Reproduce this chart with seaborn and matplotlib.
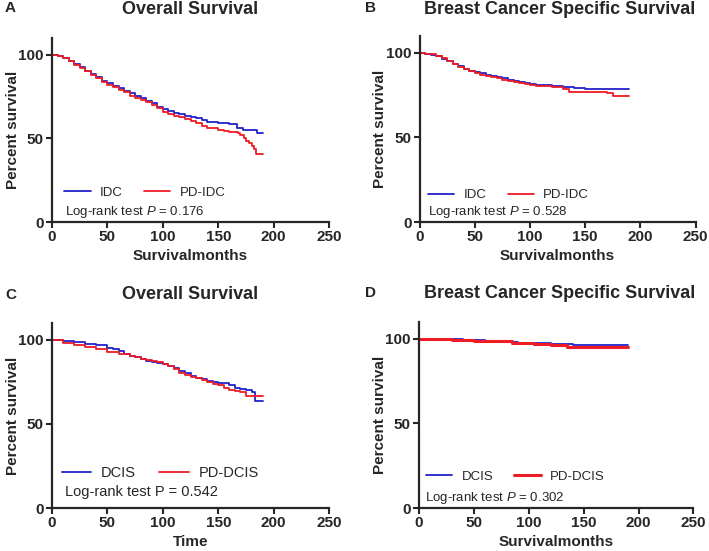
import matplotlib
matplotlib.use("Agg")
import matplotlib.pyplot as plt
import seaborn as sns
import pandas as pd

# ---------------- data ----------------
# Panel A: Overall Survival (IDC vs PD-IDC)
a_idc_t = [0, 5, 10, 15, 20, 25, 30, 35, 40, 45, 50, 55, 60, 65, 70, 75, 80, 85, 90, 95, 100,
           105, 110, 115, 120, 125, 130, 135, 140, 150, 160, 167, 172, 185, 190]
a_idc_s = [100, 99.5, 98, 96.5, 94.5, 92.5, 90.5, 88.5, 86.5, 84.5, 83, 81.5, 80, 78.5, 77, 75.5,
           74, 72.5, 71, 69, 67.5, 66.3, 65.3, 64.3, 63.3, 62.8, 62, 61, 59.6, 59.2, 58.8, 56, 55,
           53.3, 53.3]
a_pd_t = [0, 5, 10, 15, 20, 25, 30, 35, 40, 45, 50, 55, 60, 65, 70, 75, 80, 85, 90, 95, 100,
          105, 110, 115, 120, 125, 130, 135, 140, 145, 150, 155, 160, 165, 168, 170, 173, 175,
          178, 180, 182, 184, 190]
a_pd_s = [100, 99.5, 98, 96.3, 94, 92, 90, 88, 86, 84, 82, 80.5, 79, 77.5, 75.5, 74, 72.8, 71.5,
          70, 68, 66, 64.8, 63.5, 62.5, 61.8, 60.5, 59, 57.5, 56.3, 56, 55, 54.5, 54, 53.8, 53,
          52, 50, 48.5, 47, 45.5, 43.5, 40.8, 40.8]

# Panel B: Breast Cancer Specific Survival (IDC vs PD-IDC)
b_idc_t = [0, 5, 10, 15, 20, 25, 30, 35, 40, 45, 50, 55, 60, 65, 70, 75, 80, 85, 90, 95, 100,
           105, 110, 120, 125, 130, 140, 150, 160, 170, 180, 190]
b_idc_s = [100, 99.5, 98.8, 97.8, 96.5, 95, 93.5, 92, 90.5, 89.5, 88.5, 87.8, 87, 86.2, 85.5,
           84.8, 84, 83.3, 82.6, 82, 81.3, 81, 80.8, 80.6, 80.5, 79.6, 79.3, 78.8, 78.8, 78.4,
           78.3, 78.3]
b_pd_t = [0, 5, 10, 15, 20, 25, 30, 35, 40, 45, 50, 55, 60, 65, 70, 75, 80, 85, 90, 95, 100,
          105, 110, 120, 125, 130, 135, 150, 160, 170, 175, 190]
b_pd_s = [100, 99.5, 99, 98, 96.8, 95.3, 93.5, 91.8, 90.3, 89, 88, 87, 86.3, 85.5, 84.8, 84,
          83.5, 83, 82.3, 81.8, 81, 80.3, 80.2, 80, 79.8, 78.5, 77, 77, 76.7, 76.5, 74.7, 74.7]

# Panel C: Overall Survival (DCIS vs PD-DCIS)
c_dcis_t = [0, 10, 20, 30, 40, 50, 55, 60, 65, 70, 75, 80, 85, 90, 95, 100, 105, 110, 115, 120,
            125, 130, 135, 140, 145, 150, 155, 160, 165, 170, 175, 180, 183, 190]
c_dcis_s = [100, 99.4, 98.6, 97.5, 96.6, 95.2, 94.2, 93, 91.8, 90.6, 89.6, 88.5, 87.5, 86.6, 86,
            85.5, 84.5, 83.3, 81.7, 80, 78.6, 77.3, 76.5, 75.6, 74.8, 74.3, 74, 73.2, 71.5,
            70.7, 70, 68.7, 63.8, 63.8]
c_pd_t = [0, 10, 20, 30, 40, 50, 60, 70, 75, 80, 85, 90, 95, 100, 105, 110, 115, 120, 125, 130,
          135, 140, 145, 150, 155, 160, 165, 170, 175, 190]
c_pd_s = [100, 98.2, 96.6, 95.4, 94.2, 92.8, 91.6, 90.3, 89.6, 88.8, 88, 87.3, 86.5, 85.5, 84.2,
          82.5, 80.5, 79, 78, 77, 76, 75, 73.8, 72.8, 71.5, 70.2, 69.8, 68.7, 66.3, 66.3]

# Panel D: Breast Cancer Specific Survival (DCIS vs PD-DCIS)
d_dcis_t = [0, 20, 30, 40, 50, 60, 70, 80, 85, 90, 100, 110, 120, 125, 130, 140, 150, 160, 170,
            180, 190]
d_dcis_s = [100, 100, 99.7, 99.4, 99.1, 98.9, 98.8, 98.6, 97.8, 97.7, 97.6, 97.4, 97.1, 96.7,
            96.6, 96.5, 96.5, 96.4, 96.4, 96.4, 96.4]
d_pd_t = [0, 15, 30, 40, 50, 60, 80, 85, 100, 105, 110, 120, 130, 135, 150, 170, 190]
d_pd_s = [100, 99.7, 99.4, 99.0, 98.9, 98.6, 98.5, 97.7, 97.4, 97.0, 96.6, 96.3, 96.0, 95.4,
          95.3, 95.2, 95.2]

titles = ["Overall Survival", "Breast Cancer Specific Survival",
          "Overall Survival", "Breast Cancer Specific Survival"]
letters = ["A", "B", "C", "D"]
xlabels = ["Survivalmonths", "Survivalmonths", "Time", "Survivalmonths"]
group_labels = [["IDC", "PD-IDC"], ["IDC", "PD-IDC"], ["DCIS", "PD-DCIS"], ["DCIS", "PD-DCIS"]]
pvals = ["0.176", "0.528", "0.542", "0.302"]
x_ticks = [0, 50, 100, 150, 200, 250]
y_ticks = [0, 50, 100]

# ---------------- style ----------------
sns.set_style("ticks")
plt.rcParams["font.family"] = ["Liberation Sans", "DejaVu Sans"]
plt.rcParams["mathtext.fontset"] = "custom"
plt.rcParams["mathtext.rm"] = "Liberation Sans"
plt.rcParams["mathtext.it"] = "Liberation Sans:italic"

BLUE = "#2222cc"
RED = "#ee1c24"

fig = plt.figure(figsize=(7.09, 5.51), dpi=100)

# axes rectangles [left, bottom, width, height] in figure fraction
rects = [
    [0.0733, 0.597, 0.391, 0.334],
    [0.592, 0.597, 0.389, 0.338],
    [0.0733, 0.078, 0.391, 0.336],
    [0.591, 0.078, 0.387, 0.338],
]
series = [
    (a_idc_t, a_idc_s, a_pd_t, a_pd_s),
    (b_idc_t, b_idc_s, b_pd_t, b_pd_s),
    (c_dcis_t, c_dcis_s, c_pd_t, c_pd_s),
    (d_dcis_t, d_dcis_s, d_pd_t, d_pd_s),
]
legend_pos = [(0.045, 0.158), (0.03, 0.145), (0.035, 0.19), (0.025, 0.167)]
text_pos = [(0.047, 0.054), (0.03, 0.054), (0.047, 0.086), (0.022, 0.054)]
leg_size = [9.5, 9.5, 10.5, 9.5]
txt_size = [9.5, 9.5, 10.5, 9.5]
title_xy = [(0.268, 0.983), (0.79, 0.983), (0.268, 0.466), (0.79, 0.468)]
letter_xy = [(0.007, 0.985), (0.515, 0.985), (0.007, 0.465), (0.515, 0.468)]
red_lw = [1.3, 1.3, 1.3, 2.2]

for i in range(4):
    ax = fig.add_axes(rects[i])
    t1, s1, t2, s2 = series[i]
    df1 = pd.DataFrame({"t": t1, "s": s1})
    df2 = pd.DataFrame({"t": t2, "s": s2})
    sns.lineplot(data=df1, x="t", y="s", ax=ax, color=BLUE, lw=1.3,
                 drawstyle="steps-post", estimator=None, label=group_labels[i][0])
    sns.lineplot(data=df2, x="t", y="s", ax=ax, color=RED, lw=red_lw[i],
                 drawstyle="steps-post", estimator=None, label=group_labels[i][1])
    ax.set_xlim(0, 250)
    ax.set_ylim(0, 110)
    ax.set_xticks(x_ticks)
    ax.set_yticks(y_ticks)
    for lab in ax.get_xticklabels() + ax.get_yticklabels():
        lab.set_fontweight("bold")
        lab.set_fontsize(11)
    ax.tick_params(direction="out", length=4, width=1.5, pad=2)
    for sp in ["left", "bottom"]:
        ax.spines[sp].set_linewidth(1.6)
    ax.spines["top"].set_visible(False)
    ax.spines["right"].set_visible(False)
    ax.set_xlabel(xlabels[i], fontsize=11, fontweight="bold", labelpad=3)
    ax.set_ylabel("Percent survival", fontsize=11, fontweight="bold", labelpad=-1)
    leg = ax.legend(loc="center left", bbox_to_anchor=legend_pos[i], ncol=2, frameon=False,
                    fontsize=leg_size[i], borderpad=0, borderaxespad=0, handlelength=2.0,
                    handletextpad=0.7, columnspacing=1.6)
    if i == 2:
        ptxt = "Log-rank test P = " + pvals[i]
    else:
        ptxt = r"Log-rank test $\it{P}$ = " + pvals[i]
    ax.text(text_pos[i][0], text_pos[i][1], ptxt, transform=ax.transAxes,
            fontsize=txt_size[i], va="center", ha="left")
    fig.text(title_xy[i][0], title_xy[i][1], titles[i], fontsize=13, fontweight="bold",
             ha="center", va="center")
    fig.text(letter_xy[i][0], letter_xy[i][1], letters[i], fontsize=11, fontweight="bold",
             ha="left", va="center")

fig.savefig("out.png", dpi=100)
